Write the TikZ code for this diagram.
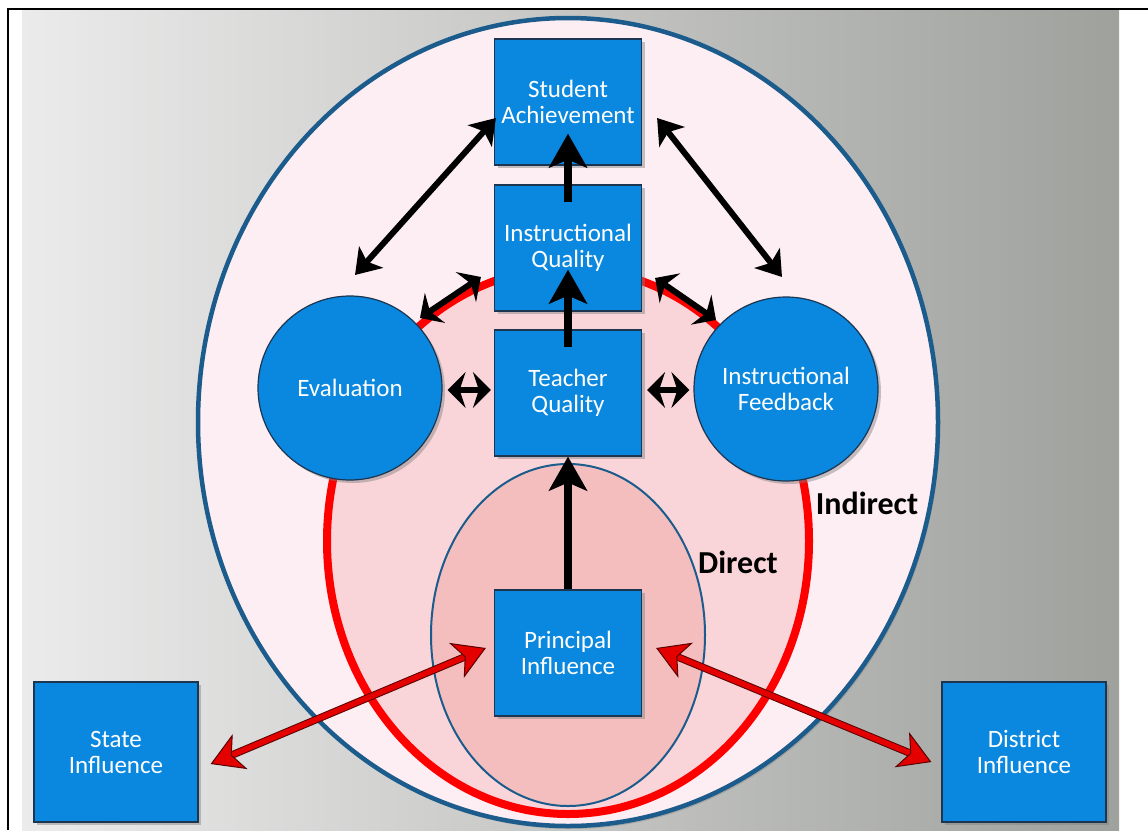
\documentclass[tikz,border=0pt]{standalone}
\usepackage{fontspec}
\setmainfont{Carlito}
\usetikzlibrary{calc,arrows.meta,shadows}
\definecolor{boxblue}{HTML}{0A87DE}
\definecolor{rimblue}{HTML}{1B5C8C}
\definecolor{boxedge}{HTML}{1C3550}
\definecolor{pale}{HTML}{FDEEF3}
\definecolor{rose}{HTML}{F9D4D8}
\definecolor{deeprose}{HTML}{F4BEBF}
\definecolor{redtip}{HTML}{E50000}
\definecolor{backleft}{HTML}{EBEBEB}
\definecolor{backright}{HTML}{9FA19D}
\newcommand\boxfont{\fontsize{25}{26}\selectfont}
\newcommand\zonefont{\fontsize{32}{34}\selectfont\bfseries}

\begin{document}
\begin{tikzpicture}[x=1pt,y=-1pt,
    box/.style={draw=boxedge,line width=1.2pt,fill=boxblue,text=white,align=center,
      minimum width=147pt,minimum height=126pt,font=\boxfont,
      drop shadow={shadow xshift=3pt,shadow yshift=-3pt,opacity=.45}},
    outbox/.style={box,minimum width=164pt,minimum height=140pt},
    disc/.style={circle,draw=boxedge,line width=1.2pt,fill=boxblue,text=white,align=center,
      minimum size=184pt,font=\boxfont,
      drop shadow={shadow xshift=3pt,shadow yshift=-3pt,opacity=.45}},
    zone/.style={font=\zonefont,text=black},
    blk/.style={line width=6pt,black,
      {Stealth[length=24pt,width=32pt,inset=6pt]}-{Stealth[length=24pt,width=32pt,inset=6pt]}},
    small/.style={line width=6pt,black,
      {Stealth[length=18pt,width=36pt,inset=6pt]}-{Stealth[length=18pt,width=36pt,inset=6pt]}},
    up/.style={line width=8pt,black,-{Stealth[length=34pt,width=38pt,inset=8pt]}},
    redarr/.style={line width=5.5pt,redtip,
      preaction={draw=red!35!black,line width=7.5pt,-,shorten <=22pt,shorten >=22pt},
      {Stealth[length=32pt,width=38pt,inset=9pt,fill=redtip,color=red!35!black,line width=1pt]}-{Stealth[length=32pt,width=38pt,inset=9pt,fill=redtip,color=red!35!black,line width=1pt]}}]
  \useasboundingbox (0,0) rectangle (1148,830);
  % backdrop and frame
  \shade[left color=backleft,right color=backright] (22,10) rectangle (1119,830);
  \draw[line width=2.5pt] (8,830) -- (8,9) -- (1148,9);
  % zones
  \draw[fill=pale,draw=rimblue,line width=4.5pt,
    drop shadow={shadow xshift=2pt,shadow yshift=-3pt,opacity=.4}] (568,422) ellipse [x radius=370,y radius=404];
  \draw[fill=rose,draw=red,line width=8pt] (568,541) ellipse [x radius=241,y radius=273];
  \draw[fill=deeprose,draw=rimblue,line width=2pt] (568,635) ellipse [x radius=137,y radius=171];
  \node[zone] (indirect) at (867,503) {Indirect};
  \node[zone] (direct) at (738,562) {Direct};

  % boxes and circles
  \node[box] (sa) at (568,102) {Student\\Achievement};
  \node[box] (iq) at (568,248) {Instructional\\Quality};
  \node[box] (tq) at (568,393) {Teacher\\Quality};
  \node[box] (pi) at (568,653) {Principal\\Influence};
  \node[disc] (eval) at (350,388) {Evaluation};
  \node[disc] (fb) at (786,389) {Instructional\\Feedback};
  \node[outbox] (state) at (116,752) {State\\Influence};
  \node[outbox] (district) at (1024,752) {District\\Influence};

  % arrows
  \draw[up] (pi.north) -- (tq.south);
  \draw[up] ($(tq.north)+(0,18)$) -- ($(iq.south)+(0,-42)$);
  \draw[up] ($(iq.north)+(0,18)$) -- ($(sa.south)+(0,-32)$);
  \draw[blk] ($(eval)+(5,-113)$) -- ($(sa.west)+(2,16)$);
  \draw[blk] ($(sa.east)+(15,16)$) -- ($(fb)+(-4,-112)$);
  \draw[small] ($(eval)+(70,-70)$) -- ($(iq.west)+(-13,29)$);
  \draw[small] ($(iq.east)+(13,30)$) -- ($(fb)+(-70,-69)$);
  \draw[small] ($(eval.east)+(5,2)$) -- ($(tq.west)+(-3,-3)$);
  \draw[small] ($(tq.east)+(5,-3)$) -- ($(fb.west)+(-4,1)$);
  \draw[redarr] ($(state.east)+(12,12)$) -- ($(pi.west)+(-8,-5)$);
  \draw[redarr] ($(pi.east)+(14,-5)$) -- ($(district.west)+(-10,10)$);
\end{tikzpicture}
\end{document}
